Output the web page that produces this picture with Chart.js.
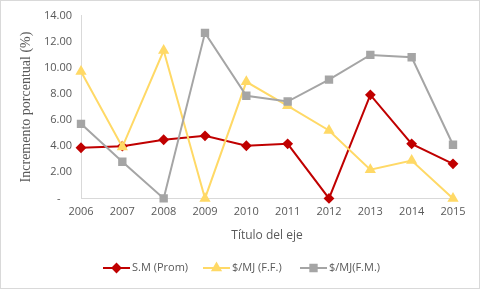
<!DOCTYPE html>
<html>
<head>
<meta charset="utf-8">
<script src="https://cdn.jsdelivr.net/npm/chart.js@4/dist/chart.umd.min.js"></script>
<style>
  html, body { margin: 0; padding: 0; background: #fff; }
  #wrap { width: 480px; height: 289px; }
</style>
</head>
<body>
<div id="wrap"><canvas id="grafico" width="480" height="289"></canvas></div>
<script>
var anios = ['2006', '2007', '2008', '2009', '2010', '2011', '2012', '2013', '2014', '2015'];
var smProm = [3.88, 4.00, 4.49, 4.79, 4.03, 4.18, 0.00, 7.93, 4.18, 2.65];
var mjFF = [9.72, 3.93, 11.32, 0.00, 8.93, 7.09, 5.20, 2.20, 2.90, 0.00];
var mjFM = [5.71, 2.81, 0.00, 12.68, 7.86, 7.42, 9.10, 10.99, 10.81, 4.11];

var gris = '#595959';

// leyenda dibujada a mano: linea + marcador + texto
var leyenda = {
  id: 'leyenda',
  afterDraw: function (chart) {
    var ctx = chart.ctx;
    var xs = [103, 203, 300];
    var y = 268;
    ctx.save();
    chart.data.datasets.forEach(function (ds, i) {
      var x = xs[i];
      ctx.strokeStyle = ds.borderColor;
      ctx.lineWidth = 2;
      ctx.beginPath();
      ctx.moveTo(x, y);
      ctx.lineTo(x + 27, y);
      ctx.stroke();
      Chart.helpers.drawPoint(ctx, {
        pointStyle: ds.pointStyle,
        radius: ds.pointRadius,
        borderWidth: 1
      }, x + 13.5, y);
      ctx.fillStyle = ds.pointBackgroundColor;
      ctx.fill();
      ctx.fillStyle = gris;
      ctx.font = '11px "Open Sans"';
      ctx.textBaseline = 'middle';
      ctx.fillText(ds.label, x + 29, y);
    });
    // marco del grafico
    ctx.strokeStyle = '#d9d9d9';
    ctx.lineWidth = 1;
    ctx.strokeRect(0.5, 0.5, 479, 288);
    ctx.restore();
  }
};

var ctx = document.getElementById('grafico').getContext('2d');
var grafico = new Chart(ctx, {
  type: 'line',
  data: {
    labels: anios,
    datasets: [
      {
        label: 'S.M (Prom)',
        data: smProm,
        borderColor: '#c00000',
        backgroundColor: '#c00000',
        pointBackgroundColor: '#c00000',
        pointBorderColor: '#c00000',
        pointStyle: 'rectRot',
        pointRadius: 4,
        borderWidth: 2,
        order: 3
      },
      {
        label: '$/MJ (F.F.)',
        data: mjFF,
        borderColor: '#ffd966',
        backgroundColor: '#ffd966',
        pointBackgroundColor: '#ffd966',
        pointBorderColor: '#ffd966',
        pointStyle: 'triangle',
        pointRadius: 4.5,
        borderWidth: 2,
        order: 2
      },
      {
        label: '$/MJ(F.M.)',
        data: mjFM,
        borderColor: '#a5a5a5',
        backgroundColor: '#a5a5a5',
        pointBackgroundColor: '#a5a5a5',
        pointBorderColor: '#a5a5a5',
        pointStyle: 'rect',
        pointRadius: 4.5,
        borderWidth: 2,
        order: 1
      }
    ]
  },
  options: {
    responsive: false,
    animation: false,
    clip: false,
    layout: { padding: { left: 14, right: 27, top: 15, bottom: 43 } },
    plugins: {
      legend: { display: false },
      tooltip: { enabled: false }
    },
    elements: { line: { tension: 0 } },
    scales: {
      x: {
        offset: false,
        grid: { display: false, drawTicks: false },
        border: { display: true, color: '#d9d9d9', width: 1 },
        ticks: { color: gris, font: { family: 'Open Sans', size: 11 }, padding: 7, maxRotation: 0 },
        title: { display: true, text: 'Título del eje', color: gris, font: { family: 'Open Sans', size: 12 }, padding: { top: 3, bottom: 3 } }
      },
      y: {
        min: 0,
        max: 14,
        grid: { display: false, drawTicks: false },
        border: { display: true, color: '#d9d9d9', width: 1 },
        ticks: {
          stepSize: 2,
          color: gris,
          font: { family: 'Open Sans', size: 11 },
          padding: 9,
          callback: function (v) { return v === 0 ? '-    ' : v.toFixed(2); }
        },
        title: { display: true, text: 'Incremento porcentual (%)', color: gris, font: { family: 'Liberation Serif', size: 14 }, padding: { bottom: 4 } },
        afterFit: function (s) { s.width = 67; }
      }
    }
  },
  plugins: [leyenda]
});
</script>
</body>
</html>
